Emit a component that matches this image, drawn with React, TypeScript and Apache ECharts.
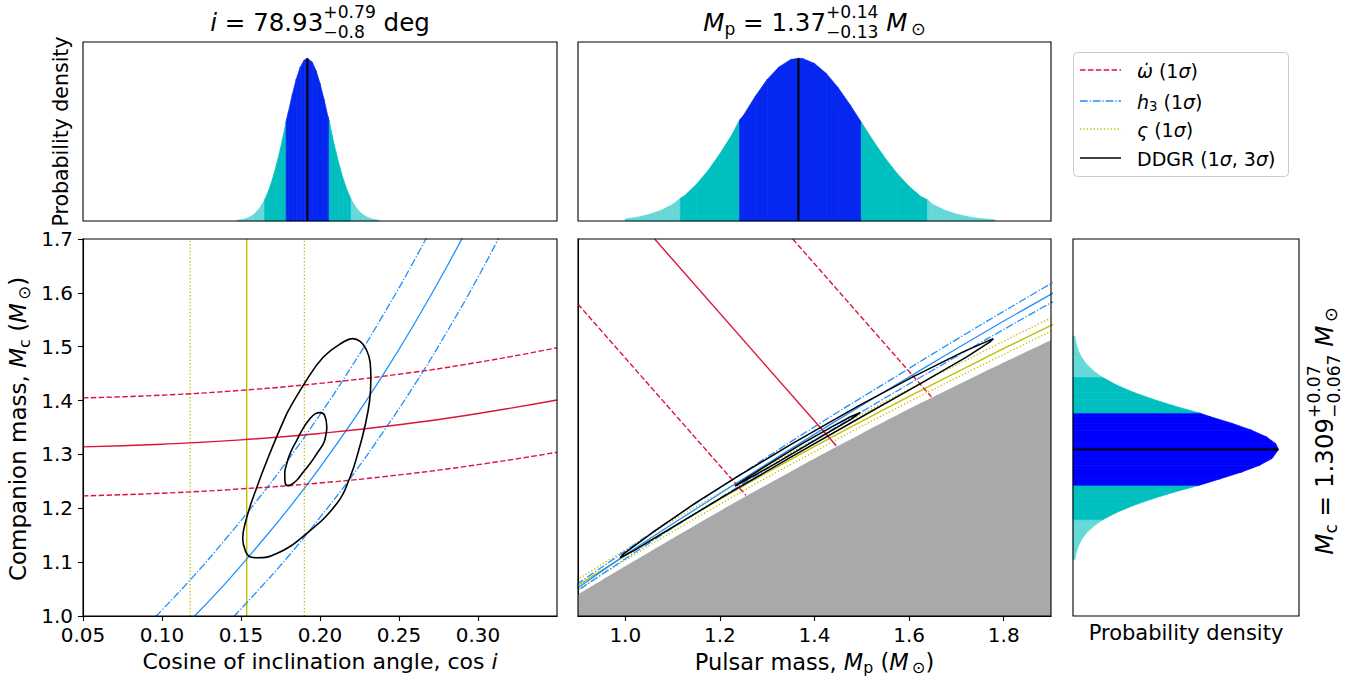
import React, { useEffect, useRef } from 'react';
import * as echarts from 'echarts';

// ---------------- Data ----------------
// Top-left histogram: cos i posterior (normalised to peak = 1)
const cosiGrid = [0.1475, 0.150, 0.1525, 0.155, 0.1575, 0.160, 0.1625, 0.165, 0.1675, 0.170, 0.1725, 0.175, 0.1775, 0.1786, 0.180, 0.1825, 0.185, 0.1875, 0.190, 0.192, 0.195, 0.1975, 0.200, 0.2025, 0.205, 0.2058, 0.2075, 0.210, 0.2125, 0.215, 0.2175, 0.2197, 0.2225, 0.225, 0.2275, 0.230, 0.2325, 0.235, 0.2375];
const cosiDensity = [0.004, 0.0074, 0.013, 0.022, 0.036, 0.058, 0.089, 0.131, 0.188, 0.26, 0.347, 0.447, 0.557, 0.615, 0.67, 0.778, 0.873, 0.945, 0.989, 1.0, 0.977, 0.924, 0.845, 0.749, 0.642, 0.615, 0.532, 0.427, 0.332, 0.249, 0.181, 0.133, 0.087, 0.057, 0.037, 0.023, 0.0135, 0.0078, 0.0044];
const cosiBands = [0.165, 0.1786, 0.2058, 0.2197];
const cosiMedian = 0.192;

// Top-middle histogram: pulsar mass posterior
const mpGrid = [1.0, 1.025, 1.05, 1.075, 1.1, 1.1165, 1.125, 1.15, 1.175, 1.2, 1.225, 1.2416, 1.25, 1.275, 1.3, 1.325, 1.35, 1.366, 1.375, 1.4, 1.425, 1.45, 1.475, 1.499, 1.525, 1.55, 1.575, 1.6, 1.625, 1.639, 1.65, 1.675, 1.7, 1.725, 1.75, 1.781];
const mpDensity = [0.013, 0.023, 0.04, 0.065, 0.102, 0.14, 0.155, 0.224, 0.31, 0.413, 0.528, 0.62, 0.65, 0.767, 0.87, 0.947, 0.992, 1.0, 0.998, 0.968, 0.906, 0.819, 0.715, 0.607, 0.489, 0.384, 0.291, 0.213, 0.15, 0.13, 0.102, 0.067, 0.043, 0.026, 0.0155, 0.0077];
const mpBands = [1.1165, 1.2416, 1.499, 1.639];
const mpMedian = 1.366;

// Right histogram: companion mass posterior
const mcGrid = [1.105, 1.1175, 1.13, 1.1425, 1.155, 1.1675, 1.179, 1.1925, 1.205, 1.2175, 1.23, 1.2427, 1.255, 1.2675, 1.28, 1.2925, 1.309, 1.32, 1.3325, 1.345, 1.3575, 1.37, 1.377, 1.39, 1.4025, 1.415, 1.4275, 1.4438, 1.455, 1.4675, 1.48, 1.4925, 1.505, 1.52];
const mcDensity = [0.0088, 0.0154, 0.026, 0.043, 0.067, 0.103, 0.146, 0.214, 0.292, 0.386, 0.491, 0.615, 0.718, 0.822, 0.909, 0.969, 1.0, 0.987, 0.942, 0.869, 0.776, 0.669, 0.615, 0.492, 0.389, 0.297, 0.219, 0.14, 0.1, 0.066, 0.042, 0.026, 0.0157, 0.0081];
const mcBands = [1.179, 1.2427, 1.377, 1.4438];
const mcMedian = 1.309;

// Bottom-left panel (cos i vs Mc)
const omegaCos = [0.05, 0.10, 0.15, 0.20, 0.25, 0.30, 0.35];
const omegaMcMid = [1.314, 1.319, 1.327, 1.339, 1.355, 1.376, 1.401];
const omegaMcHi = [1.405, 1.410, 1.419, 1.432, 1.449, 1.471, 1.498];
const omegaMcLo = [1.223, 1.228, 1.236, 1.247, 1.262, 1.281, 1.304];

const h3MidCos = [0.12, 0.14, 0.16, 0.18, 0.20, 0.22, 0.24, 0.26, 0.28, 0.30];
const h3MidMc = [0.998, 1.060, 1.128, 1.199, 1.276, 1.359, 1.448, 1.544, 1.647, 1.758];
const h3UpCos = [0.096, 0.10, 0.12, 0.14, 0.16, 0.18, 0.20, 0.22, 0.24, 0.26, 0.28];
const h3UpMc = [0.999, 1.011, 1.074, 1.142, 1.214, 1.291, 1.374, 1.463, 1.559, 1.662, 1.773];
const h3DnCos = [0.14, 0.16, 0.18, 0.20, 0.22, 0.24, 0.26, 0.28, 0.30, 0.32];
const h3DnMc = [0.982, 1.045, 1.111, 1.183, 1.259, 1.342, 1.430, 1.526, 1.629, 1.741];

const varsigmaCos = [0.1178, 0.1536, 0.1901]; // lower 1σ, central, upper 1σ

// DDGR contours in the cos i – Mc plane (3σ outer, 1σ inner), traced around the loop
const ddgr3Cos = [0.17896, 0.16730, 0.15779, 0.15317, 0.15108, 0.15285, 0.15570, 0.16001, 0.17262, 0.19011, 0.21065, 0.21907, 0.22414, 0.22858, 0.23143, 0.23219, 0.23175, 0.22921, 0.22541, 0.22066, 0.21483, 0.20215, 0.19011, 0.17896];
const ddgr3Mc = [1.3758, 1.2952, 1.2209, 1.1777, 1.1437, 1.1201, 1.1099, 1.1081, 1.1159, 1.1498, 1.2087, 1.2581, 1.3039, 1.3541, 1.4005, 1.4413, 1.4710, 1.4952, 1.5100, 1.5150, 1.5087, 1.4809, 1.4315, 1.3758];
const ddgr1Cos = [0.18530, 0.18929, 0.19373, 0.19690, 0.20006, 0.20291, 0.20431, 0.20355, 0.20215, 0.19816, 0.19373, 0.18929, 0.18530, 0.18169, 0.17947, 0.17788, 0.17769, 0.17896, 0.18137, 0.18530];
const ddgr1Mc = [1.3262, 1.3485, 1.3665, 1.3754, 1.3776, 1.3726, 1.3509, 1.3336, 1.3201, 1.3021, 1.2830, 1.2668, 1.2520, 1.2436, 1.2421, 1.2492, 1.2650, 1.2830, 1.3039, 1.3262];

// Bottom-middle panel (Mp vs Mc)
const greyMp = [0.9, 1.1, 1.3, 1.5, 1.7, 1.9];
const greyMc = [1.040, 1.144, 1.244, 1.339, 1.428, 1.512];

const omegaMidMp = [1.062, 1.446];
const omegaMidMc = [1.700, 1.316];
const omegaHiMp = [1.354, 1.647];
const omegaHiMc = [1.700, 1.407];
const omegaLoMp = [0.900, 1.255];
const omegaLoMc = [1.579, 1.224];

const h3MidMp = [0.809, 0.912, 1.025, 1.150, 1.288, 1.440, 1.608, 1.793, 1.893, 1.998];
const h3MidMpMc = [0.998, 1.060, 1.128, 1.199, 1.276, 1.359, 1.448, 1.544, 1.594, 1.647];
const h3AMp = [0.838, 0.945, 1.062, 1.191, 1.333, 1.490, 1.663, 1.854, 1.905];
const h3AMc = [1.011, 1.074, 1.142, 1.214, 1.291, 1.374, 1.463, 1.559, 1.584];
const h3BMp = [0.875, 0.984, 1.104, 1.237, 1.383, 1.545, 1.724, 1.923];
const h3BMc = [1.045, 1.111, 1.183, 1.259, 1.342, 1.430, 1.526, 1.629];

const varMidMp = [0.888, 0.978, 1.167, 1.369, 1.583, 1.808, 1.925];
const varMidMc = [1.05, 1.10, 1.20, 1.30, 1.40, 1.50, 1.55];
const varLoMp = [0.884, 0.993, 1.185, 1.389, 1.605, 1.833, 1.927];
const varLoMc = [1.04, 1.10, 1.20, 1.30, 1.40, 1.50, 1.54];
const varHiMp = [0.886, 0.958, 1.144, 1.344, 1.554, 1.777, 1.915];
const varHiMc = [1.06, 1.10, 1.20, 1.30, 1.40, 1.50, 1.56];

const ddgr3Mp = [0.989, 0.997, 1.064, 1.147, 1.235, 1.353, 1.493, 1.608, 1.713, 1.778, 1.771, 1.722, 1.624, 1.512, 1.350, 1.206, 1.060, 1.019, 1.006, 0.989];
const ddgr3MpMc = [1.108, 1.116, 1.159, 1.209, 1.258, 1.320, 1.390, 1.444, 1.490, 1.515, 1.509, 1.481, 1.4315, 1.376, 1.295, 1.221, 1.1437, 1.122, 1.116, 1.108];
const ddgr1Mp = [1.4965, 1.476, 1.4365, 1.3739, 1.3053, 1.2492, 1.2319, 1.2485, 1.3171, 1.4011, 1.4794, 1.4965];
const ddgr1MpMc = [1.3776, 1.370, 1.351, 1.320, 1.283, 1.252, 1.2414, 1.249, 1.283, 1.326, 1.3665, 1.3776];

// Axis ticks
const cosTicks = [0.05, 0.10, 0.15, 0.20, 0.25, 0.30];
const mpTicks = [1.0, 1.2, 1.4, 1.6, 1.8];
const mcTicks = [1.0, 1.1, 1.2, 1.3, 1.4, 1.5, 1.6, 1.7];

// ---------------- Styling ----------------
const RED = '#dc143c';
const DBLUE = '#1e90ff';
const YEL = '#bfbf00';
const BLUE_TOP = '#0527f0';
const BLUE_MC = '#0000ff';
const TEAL = '#00bfbf';
const LIGHT = '#66d8d8';
const FONT = '"DejaVu Sans", "Liberation Sans", sans-serif';

const DASH = [5.5, 2.4];
const DASHDOT = [7.7, 1.9, 1.3, 1.9];
const DOT = [1.3, 2.1];

const zip = (a: number[], b: number[]) => a.map((v, i) => [v, b[i]]);

let measureCtx: CanvasRenderingContext2D | null = null;
function tw(text: string, size: number, italic: boolean) {
  if (!measureCtx) measureCtx = document.createElement('canvas').getContext('2d');
  measureCtx!.font = `${italic ? 'italic ' : ''}${size}px ${FONT}`;
  return measureCtx!.measureText(text).width;
}

type Seg = { t?: string; it?: boolean; sc?: number; dy?: number; sup?: string; sub?: string };

function mathText(segs: Seg[], base: number, x: number, y: number, rot = 0, align: 'center' | 'left' = 'center') {
  const items: any[] = [];
  let cx = 0;
  for (const s of segs) {
    if (s.sup !== undefined) {
      const ss = base * 0.7;
      const w1 = tw(s.sup, ss, false);
      const w2 = tw(s.sub || '', ss, false);
      items.push({ text: s.sup, size: ss, it: false, x: cx, by: -0.55 * base });
      items.push({ text: s.sub, size: ss, it: false, x: cx, by: 0.28 * base });
      cx += Math.max(w1, w2);
    } else {
      const size = base * (s.sc ?? 1);
      items.push({ text: s.t, size, it: !!s.it, x: cx, by: (s.dy ?? 0) * base });
      cx += tw(s.t || '', size, !!s.it);
    }
  }
  const off = align === 'center' ? -cx / 2 : 0;
  return {
    type: 'group',
    x,
    y,
    rotation: rot,
    silent: true,
    z: 100,
    children: items.map((it) => ({
      type: 'text',
      x: it.x + off,
      y: it.by - 0.33 * it.size,
      z: 100,
      style: {
        text: it.text,
        font: `${it.it ? 'italic ' : ''}${it.size}px ${FONT}`,
        fill: '#000',
        textAlign: 'left',
        textVerticalAlign: 'middle',
        align: 'left',
        verticalAlign: 'middle',
      },
    })),
  };
}

function bandColor(mid: number, edges: number[], blue: string) {
  if (mid >= edges[1] && mid <= edges[2]) return blue;
  if (mid >= edges[0] && mid <= edges[3]) return TEAL;
  return LIGHT;
}

function vHistItem(xs: number[], ds: number[], bands: number[], blue: string) {
  return (params: any, api: any) => {
    const i = params.dataIndex;
    if (i >= xs.length - 1) return null;
    const fill = bandColor((xs[i] + xs[i + 1]) / 2, bands, blue);
    const pts = [api.coord([xs[i], 0]), api.coord([xs[i], ds[i]]), api.coord([xs[i + 1], ds[i + 1]]), api.coord([xs[i + 1], 0])];
    return { type: 'polygon', shape: { points: pts }, style: { fill, stroke: fill, lineWidth: 0.7 } };
  };
}

function hHistItem(ys: number[], ds: number[], bands: number[], blue: string) {
  return (params: any, api: any) => {
    const i = params.dataIndex;
    if (i >= ys.length - 1) return null;
    const fill = bandColor((ys[i] + ys[i + 1]) / 2, bands, blue);
    const pts = [api.coord([0, ys[i]]), api.coord([ds[i], ys[i]]), api.coord([ds[i + 1], ys[i + 1]]), api.coord([0, ys[i + 1]])];
    return { type: 'polygon', shape: { points: pts }, style: { fill, stroke: fill, lineWidth: 0.7 } };
  };
}

function lineS(name: string, data: number[][], gi: number, color: string, type: any, width = 1.3, smooth: any = false, z = 3) {
  return {
    name,
    type: 'line',
    xAxisIndex: gi,
    yAxisIndex: gi,
    data,
    showSymbol: false,
    symbol: 'none',
    smooth,
    silent: true,
    clip: true,
    z,
    lineStyle: { color, width, type },
  };
}

// Panel rectangles
const P = {
  tl: { left: 83, top: 42, width: 474, height: 179 },
  tm: { left: 578, top: 42, width: 473, height: 179 },
  bl: { left: 83, top: 239, width: 474, height: 377 },
  bm: { left: 578, top: 239, width: 473, height: 377 },
  br: { left: 1073, top: 239, width: 226, height: 377 },
};

export default function App() {
  const ref = useRef<HTMLDivElement>(null);

  useEffect(() => {
    if (!ref.current) return;
    const chart = echarts.init(ref.current, undefined, { renderer: 'svg' });

    const gridOf = (p: any) => ({ ...p, containLabel: false, outerBoundsMode: 'none', show: false });
    const hiddenX = (min: number, max: number, gi: number) => ({ type: 'value', gridIndex: gi, min, max, show: false, splitLine: { show: false } });
    const hiddenY = (min: number, max: number, gi: number) => ({ type: 'value', gridIndex: gi, min, max, show: false, splitLine: { show: false } });
    const tickLabel = { color: '#000', fontSize: 20, fontFamily: FONT };

    const frames = Object.values(P).map((p) => ({
      type: 'rect',
      z: 90,
      silent: true,
      shape: { x: p.left, y: p.top, width: p.width, height: p.height },
      style: { fill: 'none', stroke: '#000', lineWidth: 1.1 },
    }));

    const sunSub: Seg = { t: '\u2009⊙', sc: 0.72, dy: 0.16 };

    const legendRows: { segs: Seg[]; color: string; dash: any }[] = [
      { segs: [{ t: 'ω̇', it: true }, { t: ' (1' }, { t: 'σ', it: true }, { t: ')' }], color: RED, dash: DASH },
      { segs: [{ t: 'h', it: true }, { t: '3', sc: 0.7, dy: 0.15 }, { t: ' (1' }, { t: 'σ', it: true }, { t: ')' }], color: DBLUE, dash: DASHDOT },
      { segs: [{ t: 'ς', it: true }, { t: ' (1' }, { t: 'σ', it: true }, { t: ')' }], color: YEL, dash: DOT },
      { segs: [{ t: 'DDGR (1' }, { t: 'σ', it: true }, { t: ', 3' }, { t: 'σ', it: true }, { t: ')' }], color: '#000', dash: 'solid' },
    ];
    const legendY = [70, 101, 129, 158];
    const legendEls: any[] = [
      {
        type: 'rect',
        z: 95,
        silent: true,
        shape: { x: 1073.5, y: 52.5, width: 215, height: 124, r: 4 },
        style: { fill: 'rgba(255,255,255,0.85)', stroke: '#cccccc', lineWidth: 1 },
      },
    ];
    legendRows.forEach((r, i) => {
      legendEls.push({
        type: 'line',
        z: 100,
        silent: true,
        shape: { x1: 1080, y1: legendY[i], x2: 1121, y2: legendY[i] },
        style: { stroke: r.color, lineWidth: r.color === '#000' ? 1.6 : 1.4, lineDash: r.dash === 'solid' ? null : r.dash },
      });
      legendEls.push(mathText(r.segs, 19, 1137, legendY[i] + 7, 0, 'left'));
    });

    const texts = [
      mathText([{ t: 'i', it: true }, { t: ' = 78.93' }, { sup: '+0.79', sub: '−0.8' }, { t: ' deg' }], 24.5, 320, 31),
      mathText([{ t: 'M', it: true }, { t: 'p', sc: 0.7, dy: 0.15 }, { t: ' = 1.37' }, { sup: '+0.14', sub: '−0.13' }, { t: ' ' }, { t: 'M', it: true }, sunSub], 24.5, 814.5, 31),
      mathText([{ t: 'Probability density' }], 20.5, 68, 131.5, Math.PI / 2),
      mathText([{ t: 'Companion mass, ' }, { t: 'M', it: true }, { t: 'c', sc: 0.7, dy: 0.15 }, { t: ' (' }, { t: 'M', it: true }, sunSub, { t: ')' }], 23, 26, 429, Math.PI / 2),
      mathText([{ t: 'Cosine of inclination angle, cos ' }, { t: 'i', it: true }], 22, 320, 669),
      mathText([{ t: 'Pulsar mass, ' }, { t: 'M', it: true }, { t: 'p', sc: 0.7, dy: 0.15 }, { t: ' (' }, { t: 'M', it: true }, sunSub, { t: ')' }], 22.5, 814.5, 669),
      mathText([{ t: 'Probability density' }], 21, 1186, 640),
      mathText([{ t: 'M', it: true }, { t: 'c', sc: 0.7, dy: 0.15 }, { t: ' = 1.309' }, { sup: '+0.07', sub: '−0.067' }, { t: ' ' }, { t: 'M', it: true }, sunSub], 24.5, 1333, 431, Math.PI / 2),
    ];

    const option: any = {
      animation: false,
      backgroundColor: '#ffffff',
      textStyle: { fontFamily: FONT },
      grid: [gridOf(P.tl), gridOf(P.tm), gridOf(P.bl), gridOf(P.bm), gridOf(P.br)],
      xAxis: [
        hiddenX(0.05, 0.35, 0),
        hiddenX(0.9, 1.9, 1),
        {
          type: 'value',
          gridIndex: 2,
          min: 0.05,
          max: 0.35,
          interval: 0.05,
          splitLine: { show: false },
          axisLine: { show: true, onZero: false, lineStyle: { color: '#000', width: 1.1 } },
          axisTick: { show: true, length: 5, lineStyle: { color: '#000', width: 1.1 } },
          axisLabel: { ...tickLabel, margin: 9, showMaxLabel: false, formatter: (v: number) => (cosTicks.some((t) => Math.abs(t - v) < 1e-6) ? v.toFixed(2) : '') },
        },
        {
          type: 'value',
          gridIndex: 3,
          min: 0.9,
          max: 1.9,
          splitLine: { show: false },
          axisLine: { show: true, onZero: false, lineStyle: { color: '#000', width: 1.1 } },
          axisTick: { show: true, length: 5, customValues: mpTicks, lineStyle: { color: '#000', width: 1.1 } },
          axisLabel: { ...tickLabel, margin: 9, customValues: mpTicks, formatter: (v: number) => v.toFixed(1) },
        },
        hiddenX(0, 1.1, 4),
      ],
      yAxis: [
        hiddenY(0, 1.1, 0),
        hiddenY(0, 1.1, 1),
        {
          type: 'value',
          gridIndex: 2,
          min: 1.0,
          max: 1.7,
          interval: 0.1,
          splitLine: { show: false },
          axisLine: { show: true, onZero: false, lineStyle: { color: '#000', width: 1.1 } },
          axisTick: { show: true, length: 5, lineStyle: { color: '#000', width: 1.1 } },
          axisLabel: { ...tickLabel, margin: 10, formatter: (v: number) => (mcTicks.some((t) => Math.abs(t - v) < 1e-6) ? v.toFixed(1) : '') },
        },
        {
          type: 'value',
          gridIndex: 3,
          min: 1.0,
          max: 1.7,
          interval: 0.1,
          splitLine: { show: false },
          axisLine: { show: true, onZero: false, lineStyle: { color: '#000', width: 1.1 } },
          axisTick: { show: false },
          axisLabel: { show: false },
        },
        hiddenY(1.0, 1.7, 4),
      ],
      series: [
        // histograms
        { type: 'custom', name: 'cos i posterior', xAxisIndex: 0, yAxisIndex: 0, silent: true, data: zip(cosiGrid, cosiDensity), renderItem: vHistItem(cosiGrid, cosiDensity, cosiBands, BLUE_TOP), z: 2 },
        lineS('cos i median', [[cosiMedian, 0], [cosiMedian, 1.0]], 0, '#000', 'solid', 2, false, 5),
        { type: 'custom', name: 'Mp posterior', xAxisIndex: 1, yAxisIndex: 1, silent: true, data: zip(mpGrid, mpDensity), renderItem: vHistItem(mpGrid, mpDensity, mpBands, BLUE_TOP), z: 2 },
        lineS('Mp median', [[mpMedian, 0], [mpMedian, 1.0]], 1, '#000', 'solid', 2, false, 5),
        { type: 'custom', name: 'Mc posterior', xAxisIndex: 4, yAxisIndex: 4, silent: true, data: zip(mcDensity, mcGrid), renderItem: hHistItem(mcGrid, mcDensity, mcBands, BLUE_MC), z: 2 },
        lineS('Mc median', [[0, mcMedian], [1.0, mcMedian]], 4, '#000', 'solid', 2, false, 5),

        // bottom-left: cos i vs Mc
        lineS('ς lo', [[varsigmaCos[0], 1.0], [varsigmaCos[0], 1.7]], 2, YEL, DOT, 1.3),
        lineS('ς', [[varsigmaCos[1], 1.0], [varsigmaCos[1], 1.7]], 2, YEL, 'solid', 1.4),
        lineS('ς hi', [[varsigmaCos[2], 1.0], [varsigmaCos[2], 1.7]], 2, YEL, DOT, 1.3),
        lineS('h3 up', zip(h3UpCos, h3UpMc), 2, DBLUE, DASHDOT, 1.3, true),
        lineS('h3', zip(h3MidCos, h3MidMc), 2, DBLUE, 'solid', 1.3, true),
        lineS('h3 dn', zip(h3DnCos, h3DnMc), 2, DBLUE, DASHDOT, 1.3, true),
        lineS('ω̇ hi', zip(omegaCos, omegaMcHi), 2, RED, DASH, 1.4, true),
        lineS('ω̇', zip(omegaCos, omegaMcMid), 2, RED, 'solid', 1.4, true),
        lineS('ω̇ lo', zip(omegaCos, omegaMcLo), 2, RED, DASH, 1.4, true),
        lineS('DDGR 3σ', zip(ddgr3Cos, ddgr3Mc), 2, '#000', 'solid', 1.6, 0.45, 6),
        lineS('DDGR 1σ', zip(ddgr1Cos, ddgr1Mc), 2, '#000', 'solid', 1.6, 0.45, 6),

        // bottom-middle: Mp vs Mc
        {
          name: 'excluded',
          type: 'line',
          xAxisIndex: 3,
          yAxisIndex: 3,
          data: zip(greyMp, greyMc),
          showSymbol: false,
          symbol: 'none',
          smooth: true,
          silent: true,
          z: 1,
          lineStyle: { width: 0, color: '#a9a9a9' },
          areaStyle: { color: '#a9a9a9', opacity: 1, origin: 'start' },
        },
        lineS('ς lo m', zip(varLoMp, varLoMc), 3, YEL, DOT, 1.3, true),
        lineS('ς m', zip(varMidMp, varMidMc), 3, YEL, 'solid', 1.4, true),
        lineS('ς hi m', zip(varHiMp, varHiMc), 3, YEL, DOT, 1.3, true),
        lineS('h3 A m', zip(h3AMp, h3AMc), 3, DBLUE, DASHDOT, 1.3, true),
        lineS('h3 m', zip(h3MidMp, h3MidMpMc), 3, DBLUE, 'solid', 1.3, true),
        lineS('h3 B m', zip(h3BMp, h3BMc), 3, DBLUE, DASHDOT, 1.3, true),
        lineS('ω̇ hi m', zip(omegaHiMp, omegaHiMc), 3, RED, DASH, 1.4),
        lineS('ω̇ m', zip(omegaMidMp, omegaMidMc), 3, RED, 'solid', 1.4),
        lineS('ω̇ lo m', zip(omegaLoMp, omegaLoMc), 3, RED, DASH, 1.4),
        lineS('DDGR 3σ m', zip(ddgr3Mp, ddgr3MpMc), 3, '#000', 'solid', 1.5, false, 6),
        lineS('DDGR 1σ m', zip(ddgr1Mp, ddgr1MpMc), 3, '#000', 'solid', 1.5, false, 6),
      ],
      graphic: { elements: [...frames, ...legendEls, ...texts] },
    };

    chart.setOption(option);
    return () => chart.dispose();
  }, []);

  return <div ref={ref} style={{ position: 'fixed', left: 0, top: 0, width: 1362, height: 682, background: '#fff' }} />;
}
